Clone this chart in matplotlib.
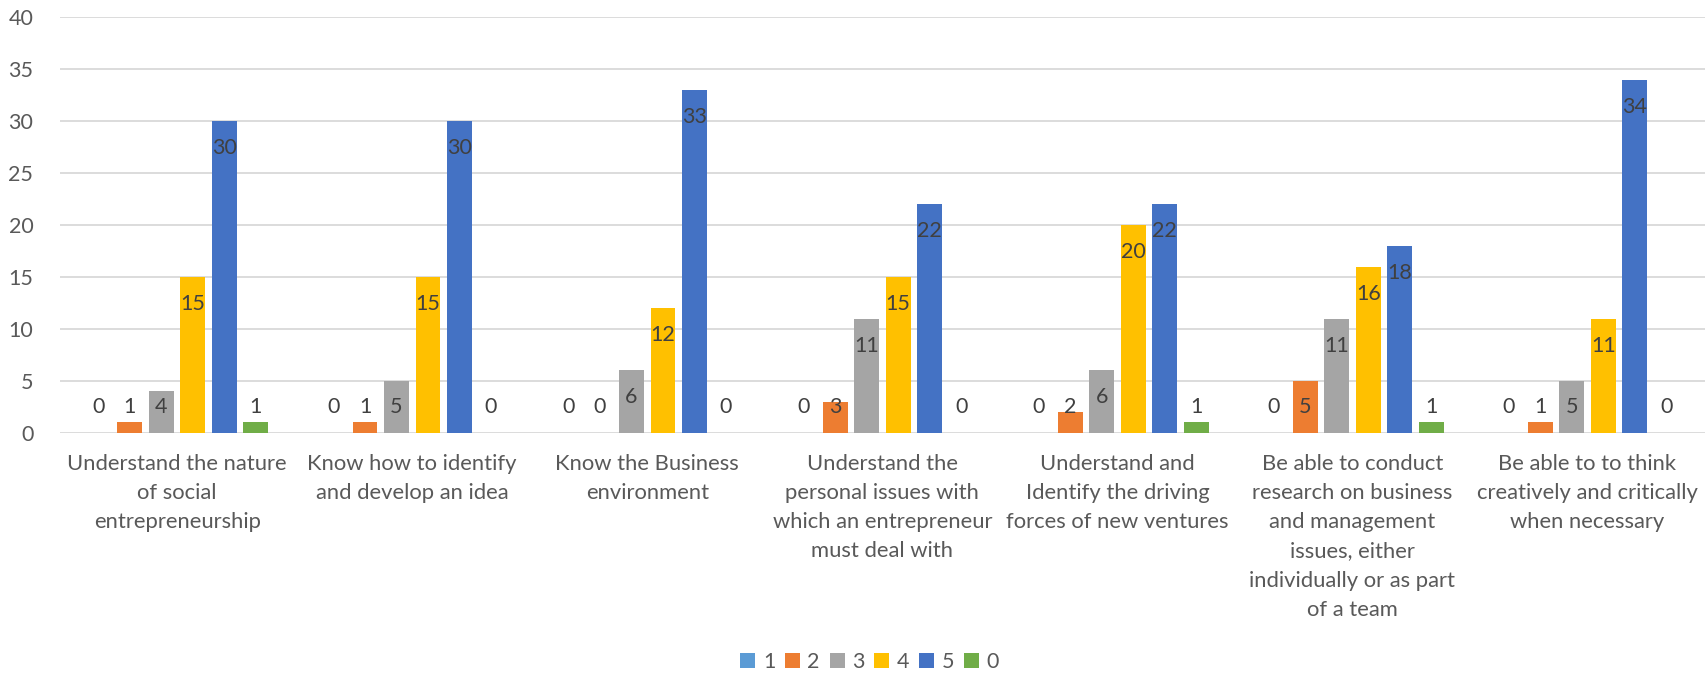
from matplotlib import pyplot as plt
import numpy as np

# survey answers per learning outcome
categories = [
    "Understand the nature\nof social\nentrepreneurship",
    "Know how to identify\nand develop an idea",
    "Know the Business\nenvironment",
    "Understand the\npersonal issues with\nwhich an entrepreneur\nmust deal with",
    "Understand and\nIdentify the driving\nforces of new ventures",
    "Be able to conduct\nresearch on business\nand management\nissues, either\nindividually or as part\nof a team",
    "Be able to to think\ncreatively and critically\nwhen necessary",
]
series_names = ["1", "2", "3", "4", "5", "0"]
s1 = [0, 0, 0, 0, 0, 0, 0]
s2 = [1, 1, 0, 3, 2, 5, 1]
s3 = [4, 5, 6, 11, 6, 11, 5]
s4 = [15, 15, 12, 15, 20, 16, 11]
s5 = [30, 30, 33, 22, 22, 18, 34]
s0 = [1, 0, 0, 0, 1, 1, 0]
yticks = [0, 5, 10, 15, 20, 25, 30, 35, 40]

colors = ["#5B9BD5", "#ED7D31", "#A5A5A5", "#FFC000", "#4472C4", "#70AD47"]

plt.rcParams['font.family'] = ['Lato', 'DejaVu Sans']

fig = plt.figure(figsize=(17.05, 6.73), dpi=100)
ax = fig.add_axes([0.035, 0.357, 0.965, 0.617])

x = np.arange(len(categories))
slot = 0.134
width = 0.106
handles = []
for i, (name, vals, c) in enumerate(zip(series_names, [s1, s2, s3, s4, s5, s0], colors)):
    xs = x + (i - 2.5) * slot
    b = ax.bar(xs, vals, width, color=c, label=name, zorder=3)
    handles.append(b)
    for xi, v in zip(xs, vals):
        ax.text(xi, max(v - 2.6, 2.5), str(v), ha='center', va='center',
                fontsize=15.5, color='#404040', zorder=4)

ax.set_xlim(-0.5, len(categories) - 0.5)
ax.set_ylim(0, 40)
ax.set_yticks(yticks)
ax.yaxis.grid(True, color='#D9D9D9', linewidth=1.3, zorder=0)
ax.set_axisbelow(True)
for sp in ax.spines.values():
    sp.set_visible(False)
ax.tick_params(axis='y', length=0, pad=19, labelsize=15.5, labelcolor='#595959')
ax.set_xticks(x)
ax.set_xticklabels(categories, fontsize=15.8, color='#595959', linespacing=1.58)
ax.tick_params(axis='x', length=0, pad=15)

fig.legend(handles=handles, labels=series_names, loc='center', ncol=6,
           bbox_to_anchor=(0.51, 0.016), frameon=False, fontsize=15.5,
           handlelength=0.7, handleheight=0.7, handletextpad=0.35,
           columnspacing=0.45, labelcolor='#595959')

fig.savefig("out.png", dpi=100)
